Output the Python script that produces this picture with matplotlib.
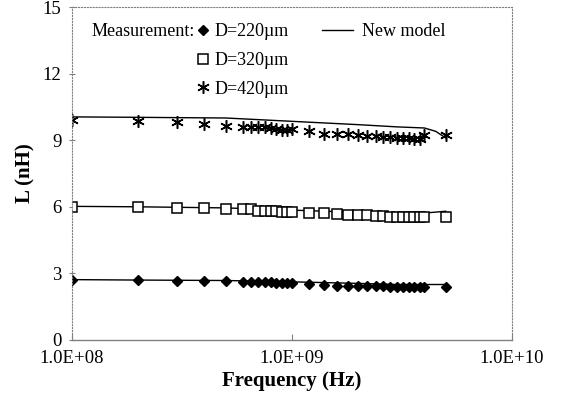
import matplotlib
matplotlib.use('Agg')
import matplotlib.pyplot as plt
from matplotlib.lines import Line2D
import numpy as np

plt.rcParams['font.family'] = ['Liberation Serif', 'DejaVu Serif']

# measured frequencies (Hz)
freq = [1e8, 2e8, 3e8, 4e8, 5e8, 6e8, 6.5e8, 7e8, 7.5e8, 8e8, 8.5e8, 9e8, 9.5e8, 1e9,
        1.2e9, 1.4e9, 1.6e9, 1.8e9, 2e9, 2.2e9, 2.4e9, 2.6e9, 2.8e9, 3e9, 3.2e9, 3.4e9,
        3.6e9, 3.8e9, 4e9, 5e9]
L_220 = [2.70, 2.70, 2.66, 2.65, 2.64, 2.60, 2.60, 2.60, 2.60, 2.60, 2.58, 2.55, 2.55, 2.55,
         2.52, 2.47, 2.45, 2.45, 2.45, 2.45, 2.45, 2.43, 2.40, 2.40, 2.40, 2.40,
         2.40, 2.40, 2.40, 2.38]
L_320 = [6.00, 6.00, 5.95, 5.95, 5.90, 5.90, 5.90, 5.80, 5.80, 5.80, 5.80, 5.75, 5.75, 5.75,
         5.72, 5.70, 5.68, 5.65, 5.62, 5.62, 5.60, 5.60, 5.55, 5.55, 5.55, 5.55,
         5.55, 5.55, 5.55, 5.52]
L_420 = [9.90, 9.85, 9.80, 9.75, 9.65, 9.60, 9.60, 9.60, 9.60, 9.55, 9.50, 9.45, 9.45, 9.50,
         9.40, 9.30, 9.30, 9.30, 9.25, 9.20, 9.20, 9.15, 9.15, 9.10, 9.10, 9.10,
         9.05, 9.05, 9.25, 9.25]

# new model curves
freq_m = [1e8, 2e8, 5e8, 1e9, 2e9, 3e9, 4e9, 4.5e9, 5e9]
M_220 = [2.72, 2.70, 2.68, 2.62, 2.55, 2.50, 2.50, 2.50, 2.50]
M_320 = [6.02, 6.00, 5.95, 5.85, 5.75, 5.68, 5.72, 5.76, 5.80]
M_420 = [10.05, 10.03, 10.00, 9.85, 9.70, 9.60, 9.55, 9.40, 9.10]

fig = plt.figure(figsize=(5.64, 4.04), dpi=100)
ax = fig.add_axes([72/564, 1-340/404, 440/564, 333/404])

for m in [M_220, M_320, M_420]:
    ax.plot(freq_m, m, color='black', linewidth=1.0)

star = (6, 2, 0)
ax.plot(freq, L_220, linestyle='none', marker='D', ms=5.5, color='black')
ax.plot(freq, L_320, linestyle='none', marker='s', ms=6.5, mfc='white', mec='black', mew=1.1)
ax.plot(freq, L_420, linestyle='none', marker=star, ms=9, color='black', mew=1.1)

ax.set_xscale('log')
ax.set_xlim(1e8, 1e10)
ax.set_ylim(0, 15)
ax.set_yticks([0, 3, 6, 9, 12, 15])
ax.set_xticks([1e8, 1e9, 1e10])
ax.set_xticklabels(['1.0E+08', '1.0E+09', '1.0E+10'])
ax.xaxis.set_minor_locator(matplotlib.ticker.NullLocator())
ax.tick_params(axis='both', labelsize=13.5, colors='black')
ax.tick_params(axis='y', direction='inout', length=5, color='gray', pad=5)
ax.tick_params(axis='x', direction='in', length=4, color='gray', pad=7)

for s in ['left', 'top', 'right']:
    ax.spines[s].set_linestyle(':')
    ax.spines[s].set_color('gray')
    ax.spines[s].set_linewidth(0.8)
ax.spines['bottom'].set_color('gray')
ax.spines['bottom'].set_linewidth(1.0)

ax.set_xlabel('Frequency (Hz)', fontsize=15, fontweight='bold', labelpad=3)
ax.set_ylabel('L (nH)', fontsize=15, fontweight='bold', labelpad=5)

ax.text(0.28, 0.925, 'Measurement:', transform=ax.transAxes, fontsize=13, va='center', ha='right')
h1 = [Line2D([], [], linestyle='none', marker='D', ms=5.5, color='black'),
      Line2D([], [], linestyle='none', marker='s', ms=6.5, mfc='white', mec='black', mew=1.1),
      Line2D([], [], linestyle='none', marker=star, ms=9, color='black', mew=1.1)]
leg1 = ax.legend(h1, ['D=220\u00b5m', 'D=320\u00b5m', 'D=420\u00b5m'], loc='upper left',
                 bbox_to_anchor=(0.266, 0.973), frameon=False, fontsize=13,
                 handlelength=0.8, handletextpad=0.2, labelspacing=0.65, borderaxespad=0)
ax.add_artist(leg1)
h2 = [Line2D([], [], color='black', linewidth=1.0)]
ax.legend(h2, ['New model'], loc='upper left', bbox_to_anchor=(0.552, 0.973), frameon=False,
          fontsize=13, handlelength=1.7, handletextpad=0.5, borderaxespad=0)

plt.savefig('out.png', dpi=100)
